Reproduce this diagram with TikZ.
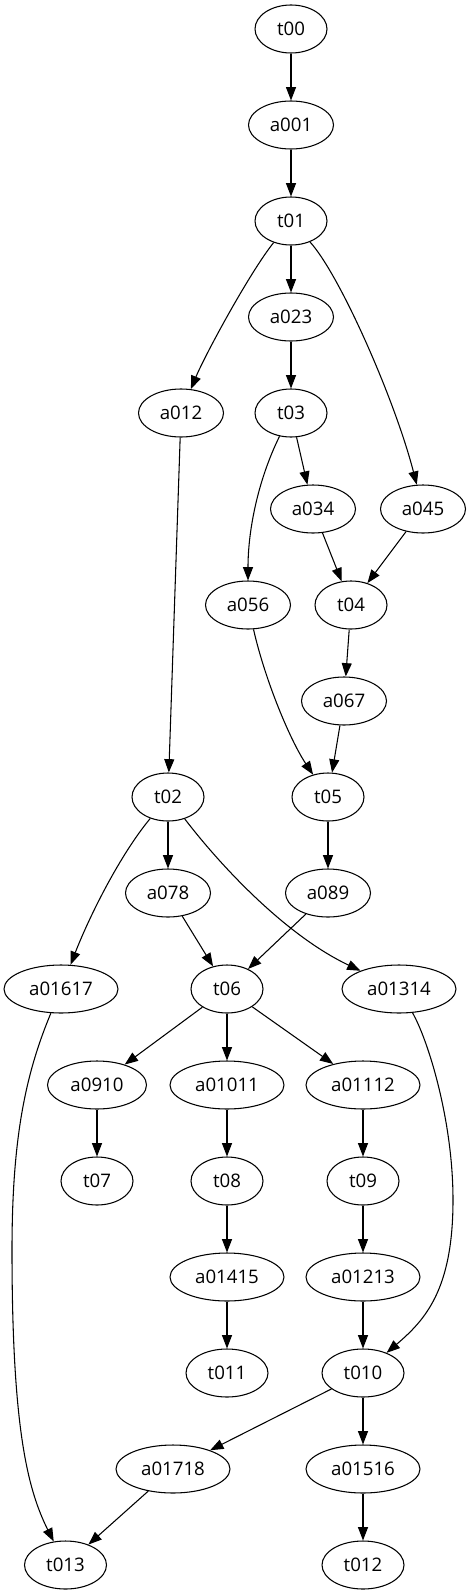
\documentclass[tikz,border=0pt]{standalone}
\usepackage{fontspec}
\setmainfont{Open Sans}
\usetikzlibrary{shapes.geometric,arrows.meta}
\begin{document}
\begin{tikzpicture}[x=0.75pt,y=-0.75pt,
  nd/.style={ellipse,draw,line width=0.8pt,inner sep=0pt,minimum height=36pt,minimum width=#1,
    font=\fontsize{14pt}{16pt}\selectfont},
  nd/.default=54pt,
  arr/.style={line width=0.8pt,-{Triangle[length=10pt,width=7.5pt]}}]
\useasboundingbox (0,0) rectangle (471,1595);
% nodes
\node[nd] (t00) at (291,29) {t00};
\node[nd=63.75pt] (a001) at (291,125) {a001};
\node[nd] (t01) at (291,221) {t01};
\node[nd=63.75pt] (a023) at (291,317) {a023};
\node[nd=63.75pt] (a012) at (181,413) {a012};
\node[nd] (t03) at (291,413) {t03};
\node[nd=63.75pt] (a034) at (313,509) {a034};
\node[nd=63.75pt] (a045) at (423,509) {a045};
\node[nd=63.75pt] (a056) at (248,605) {a056};
\node[nd] (t04) at (351,605) {t04};
\node[nd=63.75pt] (a067) at (344,701) {a067};
\node[nd] (t02) at (168,797) {t02};
\node[nd] (t05) at (328,797) {t05};
\node[nd=63.75pt] (a078) at (168,893) {a078};
\node[nd=63.75pt] (a089) at (328,893) {a089};
\node[nd=85.5pt] (a01617) at (61,989) {a01617};
\node[nd] (t06) at (227,989) {t06};
\node[nd=85.5pt] (a01314) at (399,989) {a01314};
\node[nd=74.25pt] (a0910) at (97,1085) {a0910};
\node[nd=85.5pt] (a01011) at (227,1085) {a01011};
\node[nd=85.5pt] (a01112) at (363,1085) {a01112};
\node[nd] (t07) at (97,1181) {t07};
\node[nd] (t08) at (227,1181) {t08};
\node[nd] (t09) at (363,1181) {t09};
\node[nd=85.5pt] (a01415) at (227,1277) {a01415};
\node[nd=85.5pt] (a01213) at (363,1277) {a01213};
\node[nd=61.5pt] (t011) at (227,1373) {t011};
\node[nd=61.5pt] (t010) at (363,1373) {t010};
\node[nd=85.5pt] (a01718) at (173,1469) {a01718};
\node[nd=85.5pt] (a01516) at (363,1469) {a01516};
\node[nd=61.5pt] (t013) at (65.5,1565) {t013};
\node[nd=61.5pt] (t012) at (363,1565) {t012};
% edges
\draw[arr] (t00) -- (a001);
\draw[arr] (a001) -- (t01);
\draw[arr] (t01) -- (a023);
\draw[arr] (t01) .. controls (250,272) and (205,355) .. (a012);
\draw[arr] (t01) .. controls (340,275) and (395,400) .. (a045);
\draw[arr] (a023) -- (t03);
\draw[arr] (a012) -- (t02);
\draw[arr] (t03) -- (a034);
\draw[arr] (t03) .. controls (258,480) and (248,530) .. (a056);
\draw[arr] (a034) -- (t04);
\draw[arr] (a045) -- (t04);
\draw[arr] (t04) -- (a067);
\draw[arr] (a056) .. controls (265,680) and (290,740) .. (t05);
\draw[arr] (a067) -- (t05);
\draw[arr] (t05) -- (a089);
\draw[arr] (t02) -- (a078);
\draw[arr] (t02) .. controls (120,855) and (90,915) .. (a01617);
\draw[arr] (t02) .. controls (220,865) and (285,935) .. (a01314);
\draw[arr] (a078) -- (t06);
\draw[arr] (a089) -- (t06);
\draw[arr] (t06) -- (a0910);
\draw[arr] (t06) -- (a01011);
\draw[arr] (t06) -- (a01112);
\draw[arr] (a0910) -- (t07);
\draw[arr] (a01011) -- (t08);
\draw[arr] (a01112) -- (t09);
\draw[arr] (a01617) .. controls (25,1075) and (12,1140) .. (12,1250)
   .. controls (12,1430) and (28,1490) .. (t013);
\draw[arr] (a01314) .. controls (428,1040) and (453,1120) .. (453,1200)
   .. controls (453,1290) and (425,1320) .. (t010);
\draw[arr] (t08) -- (a01415);
\draw[arr] (a01415) -- (t011);
\draw[arr] (t09) -- (a01213);
\draw[arr] (a01213) -- (t010);
\draw[arr] (t010) -- (a01718);
\draw[arr] (t010) -- (a01516);
\draw[arr] (a01516) -- (t012);
\draw[arr] (a01718) -- (t013);
\end{tikzpicture}
\end{document}
